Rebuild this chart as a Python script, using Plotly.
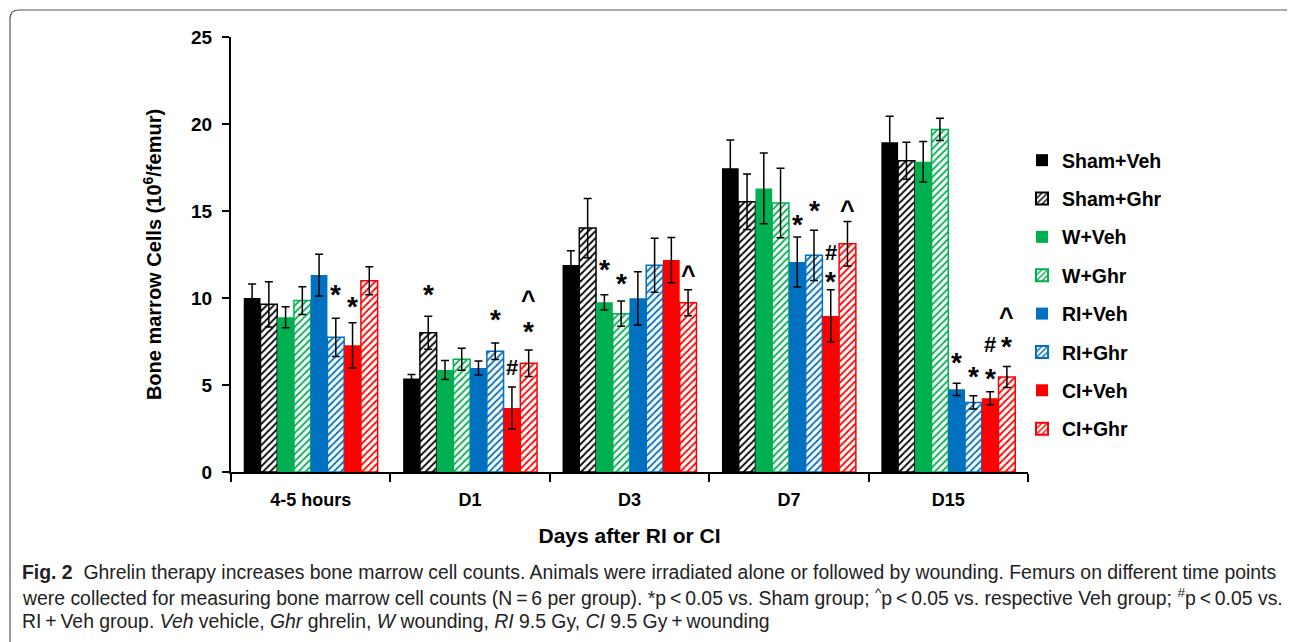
import plotly.graph_objects as go

categories = ["4-5 hours", "D1", "D3", "D7", "D15"]
series_names = ["Sham+Veh", "Sham+Ghr", "W+Veh", "W+Ghr", "RI+Veh", "RI+Ghr", "CI+Veh", "CI+Ghr"]
series_colors = ["#000000", "#000000", "#00B050", "#00B050", "#0070C0", "#0070C0", "#FF0000", "#FF0000"]
series_hatched = [False, True, False, True, False, True, False, True]

means = {
    "Sham+Veh": [10.0, 5.38, 11.9, 17.45, 18.95],
    "Sham+Ghr": [9.64, 8.0, 14.02, 15.53, 17.89],
    "W+Veh":    [8.89, 5.86, 9.75, 16.3, 17.83],
    "W+Ghr":    [9.85, 6.48, 9.1, 15.46, 19.69],
    "RI+Veh":   [11.32, 5.98, 9.98, 12.07, 4.75],
    "RI+Ghr":   [7.74, 6.94, 11.88, 12.45, 4.0],
    "CI+Veh":   [7.28, 3.68, 12.18, 8.97, 4.24],
    "CI+Ghr":   [10.99, 6.25, 9.73, 13.12, 5.46],
}
errors = {
    "Sham+Veh": [0.8, 0.23, 0.82, 1.63, 1.5],
    "Sham+Ghr": [1.3, 0.95, 1.7, 1.6, 1.06],
    "W+Veh":    [0.6, 0.55, 0.44, 2.03, 1.17],
    "W+Ghr":    [0.8, 0.63, 0.73, 2.0, 0.64],
    "RI+Veh":   [1.2, 0.4, 1.53, 1.44, 0.35],
    "RI+Ghr":   [1.1, 0.47, 1.55, 1.45, 0.38],
    "CI+Veh":   [1.3, 1.2, 1.3, 1.5, 0.37],
    "CI+Ghr":   [0.8, 0.76, 0.75, 1.28, 0.61],
}

# significance marks: (category index, series name, symbol, y value)
sig_marks = [
    (0, "RI+Ghr", "*", 10.4), (0, "CI+Veh", "*", 9.7),
    (1, "Sham+Ghr", "*", 10.36), (1, "RI+Ghr", "*", 8.93), (1, "CI+Veh", "#", 6.0),
    (1, "CI+Ghr", "*", 8.26), (1, "CI+Ghr", "^", 10.3),
    (2, "W+Veh", "*", 11.8), (2, "W+Ghr", "*", 11.03), (2, "CI+Ghr", "^", 11.7),
    (3, "RI+Veh", "*", 14.39), (3, "RI+Ghr", "*", 15.2), (3, "CI+Veh", "#", 12.6),
    (3, "CI+Veh", "*", 11.13), (3, "CI+Ghr", "^", 15.48),
    (4, "RI+Veh", "*", 6.44), (4, "RI+Ghr", "*", 5.67), (4, "CI+Veh", "#", 7.3),
    (4, "CI+Veh", "*", 5.57), (4, "CI+Ghr", "*", 7.4), (4, "CI+Ghr", "^", 9.3),
]

y_ticks = [0, 5, 10, 15, 20, 25]
y_title = "Bone marrow Cells (10<sup>6</sup>/femur)"
x_title = "Days after RI or CI"
caption_lines = [
    "<b>Fig. 2</b>  Ghrelin therapy increases bone marrow cell counts. Animals were irradiated alone or followed by wounding. Femurs on different time points",
    "were collected for measuring bone marrow cell counts (N\u2009=\u20096 per group). *p\u2009<\u20090.05 vs. Sham group; <sup>^</sup>p\u2009<\u20090.05 vs. respective Veh group; <sup>#</sup>p\u2009<\u20090.05 vs.",
    "RI\u2009+\u2009Veh group. <i>Veh</i> vehicle, <i>Ghr</i> ghrelin, <i>W</i> wounding, <i>RI</i> 9.5 Gy, <i>CI</i> 9.5 Gy\u2009+\u2009wounding",
]

FONT = "Liberation Sans, Arial, sans-serif"
OFF = 8  # page offset of the figure in the browser
W, H = 1295, 642
ML, MT = 231 - OFF, 37 - OFF
MB = H - (472 - OFF)
MR = W - (1028 - OFF)
PW, PH = W - ML - MR, H - MT - MB
BARGAP = 0.16


def px_x(px):
    return (px - OFF - ML) / PW


def px_y(py):
    return (H - MB - (py - OFF)) / PH


fig = go.Figure()
for name, color, hatched in zip(series_names, series_colors, series_hatched):
    if hatched:
        marker = dict(color="white", line=dict(color=color, width=1.5),
                      pattern=dict(shape="/", fgcolor=color, bgcolor="white", size=5, solidity=0.35, fillmode="replace"))
    else:
        marker = dict(color=color, line=dict(color=color, width=0))
    fig.add_trace(go.Bar(
        name=name, x=categories, y=means[name], marker=marker,
        error_y=dict(type="data", array=errors[name], visible=True, color="black", thickness=1.5, width=4),
        legendgroup=name,
    ))

n = len(series_names)
slot = (1 - BARGAP) / n
annotations = []
for ci, sname, sym, yv in sig_marks:
    si = series_names.index(sname)
    size = 28 if sym == "*" else (25 if sym == "^" else 22)
    annotations.append(dict(
        x=ci + (si - (n - 1) / 2) * slot, y=yv, xref="x", yref="y", text="<b>%s</b>" % sym,
        showarrow=False, font=dict(family=FONT, size=size, color="black"),
        yshift=(-7 if sym == "^" else (-3 if sym == "*" else 0)),
    ))

for i, line in enumerate(caption_lines):
    annotations.append(dict(
        x=px_x(20), y=px_y(572 + i * 24.5), xref="paper", yref="paper", xanchor="left", yanchor="middle",
        text=line, showarrow=False, font=dict(family=FONT, size=19.4, color="#222222"),
    ))

# rounded outer frame
x0, x1, y0, y1, r = px_x(10), px_x(1294), px_y(10), px_y(670), 9
rx, ry = r / PW, r / PH
frame_path = (f"M {x0},{y1} L {x0},{y0 - ry} Q {x0},{y0} {x0 + rx},{y0} "
              f"L {x1 - rx},{y0} Q {x1},{y0} {x1},{y0 - ry} L {x1},{y1}")

fig.update_layout(
    width=W, height=H, margin=dict(l=ML, r=MR, t=MT, b=MB),
    paper_bgcolor="white", plot_bgcolor="white",
    barmode="group", bargap=BARGAP, bargroupgap=0,
    font=dict(family=FONT, color="black"),
    showlegend=True,
    legend=dict(x=px_x(1022), y=px_y(141), xanchor="left", yanchor="top", traceorder="grouped",
                tracegroupgap=10, font=dict(family=FONT, size=19.5, color="black", weight="bold"),
                bgcolor="rgba(0,0,0,0)", itemsizing="constant"),
    annotations=annotations,
    shapes=[dict(type="path", path=frame_path, xref="paper", yref="paper", line=dict(color="#555555", width=1.2))],
    xaxis=dict(showline=True, linecolor="black", linewidth=2, ticks="outside", tickson="boundaries",
               ticklen=8, tickwidth=1.5, tickcolor="black", ticklabelstandoff=10,
               tickfont=dict(family=FONT, size=18, color="black", weight="bold"),
               title=dict(text=x_title, font=dict(family=FONT, size=21, color="black", weight="bold"), standoff=20)),
    yaxis=dict(range=[0, 25], tickvals=y_ticks, showline=True, linecolor="black", linewidth=2,
               ticks="outside", ticklen=7, tickwidth=1.5, tickcolor="black", showgrid=False, zeroline=False,
               ticklabelstandoff=6,
               tickfont=dict(family=FONT, size=19, color="black", weight="bold"),
               title=dict(text=y_title, font=dict(family=FONT, size=20, color="black", weight="bold"), standoff=24)),
)

fig.write_html("out.html")
